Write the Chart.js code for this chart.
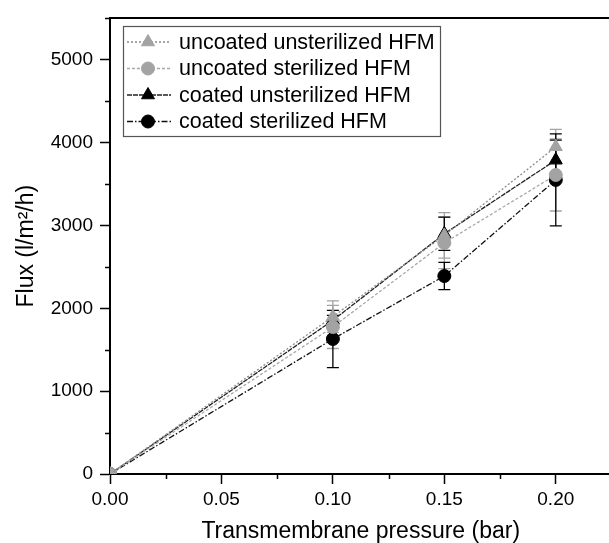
<!DOCTYPE html>
<html><head><meta charset="utf-8">
<script src="https://cdn.jsdelivr.net/npm/chart.js@4/dist/chart.umd.min.js"></script>
<style>html,body{margin:0;padding:0;background:#fff;overflow:hidden}#wrap{width:620px;height:543px}</style>
</head><body><div id="wrap"><canvas id="c" width="620" height="543"></canvas></div>
<script>
// ---- data ----
const pressure = [0, 0.10, 0.15, 0.20];
const seriesNames = ['uncoated unsterilized HFM', 'uncoated sterilized HFM', 'coated unsterilized HFM', 'coated sterilized HFM'];
const uncoatedUnsterilized = [0, 1900, 2880, 3950];
const uncoatedUnsterilizedErr = [0, 190, 275, 210];
const uncoatedSterilized = [0, 1775, 2790, 3610];
const uncoatedSterilizedErr = [0, 260, 310, 435];
const coatedUnsterilized = [0, 1855, 2900, 3790];
const coatedUnsterilizedErr = [0, 60, 200, 240];
const coatedSterilized = [0, 1630, 2390, 3550];
const coatedSterilizedErr = [0, 345, 165, 555];
const xTickValues = [0, 0.05, 0.10, 0.15, 0.20];
const xMinorTicks = [0.025, 0.075, 0.125, 0.175];
const yTickValues = [0, 1000, 2000, 3000, 4000, 5000];
const yMinorTicks = [500, 1500, 2500, 3500, 4500, 5500];

const FONT = '"Liberation Sans", Arial, sans-serif';
const GRAY = '#a3a3a3';

function mk(label, vals, errs, color, lineColor, dash, style, r) {
  return {
    label, errs, errColor: color,
    data: pressure.map((p, i) => ({x: p, y: vals[i]})),
    borderColor: lineColor, borderWidth: 1.3, borderDash: dash,
    pointStyle: style, pointRadius: r, pointHoverRadius: r,
    pointBackgroundColor: color, pointBorderColor: color, pointBorderWidth: 1,
    tension: 0, fill: false
  };
}

const datasets = [
  mk(seriesNames[0], uncoatedUnsterilized, uncoatedUnsterilizedErr, GRAY, '#8a8a8a', [2, 2], 'triangle', 7.5),
  mk(seriesNames[1], uncoatedSterilized, uncoatedSterilizedErr, GRAY, '#a8a8a8', [3, 2], 'circle', 6.5),
  mk(seriesNames[2], coatedUnsterilized, coatedUnsterilizedErr, '#000', '#222', [5, 1], 'triangle', 7.5),
  mk(seriesNames[3], coatedSterilized, coatedSterilizedErr, '#000', '#111', [6, 2, 1.5, 2], 'circle', 6.5)
];

const errorBars = {
  id: 'errorBars',
  beforeDatasetsDraw(chart) {
    const ctx = chart.ctx, xs = chart.scales.x, ys = chart.scales.y;
    ctx.save();
    chart.data.datasets.forEach(ds => {
      ctx.strokeStyle = ds.errColor; ctx.lineWidth = 1.3; ctx.setLineDash([]);
      ds.data.forEach((pt, i) => {
        const e = ds.errs[i]; if (!e) return;
        const x = xs.getPixelForValue(pt.x);
        const y1 = ys.getPixelForValue(pt.y + e), y2 = ys.getPixelForValue(pt.y - e);
        ctx.beginPath();
        ctx.moveTo(x, y1); ctx.lineTo(x, y2);
        ctx.moveTo(x - 6, y1); ctx.lineTo(x + 6, y1);
        ctx.moveTo(x - 6, y2); ctx.lineTo(x + 6, y2);
        ctx.stroke();
      });
    });
    ctx.restore();
  }
};

const minorTicks = {
  id: 'minorTicks',
  afterDraw(chart) {
    const ctx = chart.ctx, xs = chart.scales.x, ys = chart.scales.y, a = chart.chartArea;
    ctx.save(); ctx.strokeStyle = '#000'; ctx.lineWidth = 1.5;
    ctx.beginPath();
    yMinorTicks.forEach(v => { const y = Math.round(ys.getPixelForValue(v)) + 0.5; ctx.moveTo(a.left - 5, y); ctx.lineTo(a.left, y); });
    xMinorTicks.forEach(v => { const x = Math.round(xs.getPixelForValue(v)) + 0.5; ctx.moveTo(x, a.bottom); ctx.lineTo(x, a.bottom + 5); });
    ctx.stroke(); ctx.restore();
  }
};

function drawMarker(ctx, style, x, y, r, color) {
  ctx.fillStyle = color; ctx.strokeStyle = color; ctx.lineWidth = 1; ctx.setLineDash([]);
  ctx.beginPath();
  if (style === 'circle') ctx.arc(x, y, r, 0, Math.PI * 2);
  else {
    let rad = 0;
    for (let k = 0; k < 3; k++) { const px = x + Math.sin(rad) * r, py = y - Math.cos(rad) * r; k ? ctx.lineTo(px, py) : ctx.moveTo(px, py); rad += 2 * Math.PI / 3; }
    ctx.closePath();
  }
  ctx.fill(); ctx.stroke();
}

const boxLegend = {
  id: 'boxLegend',
  afterDraw(chart) {
    const ctx = chart.ctx;
    ctx.save();
    const L = 123, T = 26, R = 440, B = 136;
    ctx.fillStyle = '#fff'; ctx.fillRect(L, T, R - L, B - T);
    ctx.strokeStyle = '#555'; ctx.lineWidth = 1.2; ctx.strokeRect(L + 0.5, T + 0.5, R - L, B - T);
    chart.data.datasets.forEach((ds, i) => {
      const y = 42 + i * 26.5;
      ctx.strokeStyle = ds.borderColor; ctx.lineWidth = 1.3; ctx.setLineDash(ds.borderDash);
      ctx.beginPath(); ctx.moveTo(127, y); ctx.lineTo(171, y); ctx.stroke();
      drawMarker(ctx, ds.pointStyle, 148, y, ds.pointRadius, ds.errColor);
      ctx.fillStyle = '#000'; ctx.font = '21.5px ' + FONT; ctx.textBaseline = 'middle'; ctx.textAlign = 'left';
      ctx.fillText(ds.label, 179, y + 1);
    });
    ctx.restore();
  }
};

new Chart(document.getElementById('c'), {
  type: 'line',
  data: { datasets },
  options: {
    responsive: false, animation: false, devicePixelRatio: 1,
    layout: { padding: { left: 0, right: 8, top: 0, bottom: 0 } },
    plugins: { legend: { display: false }, tooltip: { enabled: false } },
    scales: {
      x: {
        type: 'linear', position: 'bottom', min: 0, max: 0.225,
        afterBuildTicks: s => { s.ticks = xTickValues.map(v => ({value: v})); },
        afterFit: s => { s.height = 69; },
        ticks: { callback: v => v.toFixed(2), color: '#000', font: { family: FONT, size: 19 }, padding: 4, maxRotation: 0 },
        grid: { drawOnChartArea: false, tickLength: 10, tickWidth: 1.5, tickColor: '#000' },
        border: { color: '#000', width: 2 },
        title: { display: true, text: 'Transmembrane pressure (bar)', color: '#000', font: { family: FONT, size: 23, lineHeight: 1 }, padding: { top: 0, bottom: 0 } }
      },
      xTop: {
        type: 'linear', position: 'top', min: 0, max: 0.225,
        afterFit: s => { s.height = 11; },
        ticks: { display: false },
        grid: { drawOnChartArea: false, drawTicks: false },
        border: { color: '#000', width: 2 }
      },
      y: {
        type: 'linear', position: 'left', min: 0, max: 5500,
        afterBuildTicks: s => { s.ticks = yTickValues.map(v => ({value: v})); },
        afterFit: s => { s.width = 110; },
        ticks: { callback: v => String(v), color: '#000', font: { family: FONT, size: 19 }, padding: 7 },
        grid: { drawOnChartArea: false, tickLength: 10, tickWidth: 1.5, tickColor: '#000' },
        border: { color: '#000', width: 2 },
        title: { display: true, text: 'Flux (l/m²/h)', color: '#000', font: { family: FONT, size: 23, lineHeight: 1 }, padding: { top: 15, bottom: 0 } }
      }
    }
  },
  plugins: [errorBars, minorTicks, boxLegend]
});
</script>
</body></html>
